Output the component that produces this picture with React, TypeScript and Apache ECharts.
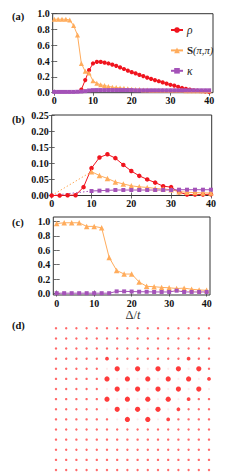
import React, { useEffect, useRef } from "react";
import * as echarts from "echarts";

// ---------- Panel (a) data: Δ/t step 1 ----------
const deltaA = [0,1,2,3,4,5,6,7,8,9,10,11,12,13,14,15,16,17,18,19,20,21,22,23,24,25,26,27,28,29,30,31,32,33,34,35,36,37,38,39,40];
const rhoAStart = 7;
const rhoA = [0.04,0.16,0.285,0.37,0.39,0.39,0.38,0.37,0.355,0.34,0.32,0.30,0.28,0.26,0.245,0.225,0.21,0.19,0.175,0.16,0.145,0.13,0.115,0.10,0.09,0.075,0.06,0.05,0.04,0.03,0.025,0.02,0.015,0.01];
const sA = [0.93,0.93,0.93,0.93,0.92,0.85,0.73,0.37,0.27,0.25,0.15,0.12,0.10,0.09,0.08,0.07,0.065,0.06,0.055,0.05,0.045,0.04,0.04,0.035,0.035,0.03,0.03,0.03,0.03,0.03,0.03,0.03,0.03,0.03,0.025,0.025,0.025,0.025,0.025,0.025,0.025];
const kA = [0.01,0.01,0.01,0.01,0.01,0.01,0.012,0.015,0.02,0.028,0.032,0.033,0.033,0.033,0.033,0.033,0.033,0.033,0.033,0.033,0.033,0.03,0.03,0.03,0.03,0.03,0.03,0.03,0.03,0.03,0.03,0.03,0.03,0.03,0.03,0.03,0.03,0.03,0.03,0.03,0.03];

// ---------- Panel (b) data: Δ/t step 2 ----------
const deltaB = [0,2,4,6,8,10,12,14,16,18,20,22,24,26,28,30,32,34,36,38,40];
const rhoB = [0,0,0.001,0.001,0.026,0.085,0.118,0.128,0.116,0.095,0.076,0.061,0.05,0.04,0.029,0.026,0.01,0.003,0.003,0.003,0.004];
const deltaB2 = [10,12,14,16,18,20,22,24,26,28,30,32,34,36,38,40];
const sB = [0.074,0.062,0.053,0.042,0.036,0.03,0.027,0.025,0.022,0.02,0.018,0.012,0.01,0.009,0.008,0.008];
const kB = [0.014,0.015,0.016,0.017,0.017,0.017,0.017,0.017,0.017,0.017,0.017,0.018,0.018,0.018,0.018,0.018];

// ---------- Panel (c) data ----------
const deltaC = [0,2,4,6,8,10,12,14,16,18,20,22,24,26,28,30,32,34,36,38,40];
const sC = [0.97,0.98,0.98,0.98,0.93,0.93,0.91,0.5,0.32,0.27,0.27,0.16,0.1,0.095,0.085,0.08,0.07,0.075,0.06,0.05,0.045];
const kC = [0.005,0.005,0.005,0.005,0.005,0.005,0.005,0.005,0.03,0.03,0.028,0.025,0.025,0.022,0.022,0.022,0.04,0.022,0.022,0.022,0.022];

// ---------- tick labels ----------
const xTicks = [0, 10, 20, 30, 40];
const yTicksA = [0, 0.2, 0.4, 0.6, 0.8, 1.0];
const yTicksB = [0, 0.05, 0.1, 0.15, 0.2, 0.25];
const yTicksC = [0, 0.2, 0.4, 0.6, 0.8, 1.0];

// ---------- Panel (d) lattice: f faint, s small, m medium, B big ----------
const latticeRows = [
  "ssssssssssssssss",
  "ssssssssssssssss",
  "ssssssssssssssss",
  "sssssmsssssssmss",
  "sssssfBfBfBfBfBs",
  "sssssBfBfBfBfBfm",
  "sssssfBfBfBfBfBf",
  "sssssBfBfBfBfmss",
  "sssssfBfBfBfmsss",
  "ssssssfBfBfmssss",
  "ssssssssssssssss",
  "ssssssssssssssss",
  "ssssssssssssssss",
  "ssssssssssssssss",
  "ssssssssssssssss",
];

const RED = "#f0141e";
const ORANGE = "#ffac5c";
const PURPLE = "#a452b8";
const SERIF = "'Liberation Serif', 'DejaVu Serif', serif";

const zip = (xs: number[], ys: number[]) => ys.map((y, i) => [xs[i], y]);

const labelStyle = {
  fontFamily: SERIF,
  fontWeight: "bold" as const,
  fontSize: 10,
  color: "#111",
};

function xAxesFor(g: number, min: number, max: number) {
  const common = {
    type: "value" as const,
    gridIndex: g,
    min,
    max,
    axisLine: { show: false },
    splitLine: { show: false },
    axisTick: { inside: true, length: 3, lineStyle: { color: "#444", width: 0.8 }, customValues: xTicks },
  };
  return [
    {
      ...common,
      position: "bottom" as const,
      axisLabel: { ...labelStyle, margin: 3, customValues: xTicks, formatter: (v: number) => String(Math.round(v)) },
    },
    { ...common, position: "top" as const, axisLabel: { show: false } },
  ];
}

function yAxesFor(g: number, min: number, max: number, ticks: number[], digits: number) {
  const common = {
    type: "value" as const,
    gridIndex: g,
    min,
    max,
    axisLine: { show: false },
    splitLine: { show: false },
    axisTick: { inside: true, length: 3, lineStyle: { color: "#444", width: 0.8 }, customValues: ticks },
  };
  return [
    {
      ...common,
      position: "left" as const,
      axisLabel: { ...labelStyle, margin: 3, customValues: ticks, formatter: (v: number) => v.toFixed(digits) },
    },
    { ...common, position: "right" as const, axisLabel: { show: false } },
  ];
}

function lineSeries(name: string, xi: number, yi: number, data: number[][], color: string, symbol: string, size: number, extra: any = {}) {
  return {
    name,
    type: "line",
    xAxisIndex: xi,
    yAxisIndex: yi,
    data,
    symbol,
    symbolSize: size,
    itemStyle: { color },
    lineStyle: { color, width: 1 },
    emphasis: { disabled: true },
    ...extra,
  };
}

function guide(xi: number, yi: number, end: number[], color: string) {
  return {
    name: "guide",
    type: "line",
    xAxisIndex: xi,
    yAxisIndex: yi,
    data: [[0, 0], end],
    symbol: "none",
    lineStyle: { color, width: 1, type: [1.5, 2] },
    emphasis: { disabled: true },
    silent: true,
  };
}

const levelOf: Record<string, number> = { f: 0, s: 1, m: 2, B: 3 };
const sizeOf = [2.2, 2.4, 3.8, 5.2];
const colorOf = ["rgba(255,80,80,0.14)", "rgba(255,20,20,0.8)", "#ff1414", "#ff0a0a"];

const latticeData: number[][] = [];
latticeRows.forEach((row, j) => {
  row.split("").forEach((ch, i) => latticeData.push([i, j, levelOf[ch]]));
});

export default function App() {
  const ref = useRef<HTMLDivElement>(null);
  useEffect(() => {
    const chart = echarts.init(ref.current!, null, { renderer: "svg" });
    const option: any = {
      animation: false,
      backgroundColor: "#fff",
      grid: [
        { left: 52.7, top: 13.7, width: 160.3, height: 79, show: true, borderColor: "#333", borderWidth: 1, backgroundColor: "transparent" },
        { left: 51.7, top: 115, width: 160, height: 80.5, show: true, borderColor: "#333", borderWidth: 1, backgroundColor: "transparent" },
        { left: 53.3, top: 217, width: 156.7, height: 78, show: true, borderColor: "#333", borderWidth: 1, backgroundColor: "transparent" },
        { left: 56, top: 328.3, width: 153, height: 141.7, show: false },
      ],
      xAxis: [
        ...xAxesFor(0, -0.4, 41),
        ...xAxesFor(1, 0, 40.2),
        ...xAxesFor(2, -0.9, 40.9),
        { type: "value", gridIndex: 3, min: 0, max: 15, show: false },
      ],
      yAxis: [
        ...yAxesFor(0, 0, 1.0, yTicksA, 1),
        ...yAxesFor(1, 0, 0.25, yTicksB, 2),
        ...yAxesFor(2, -0.02, 1.06, yTicksC, 1),
        { type: "value", gridIndex: 3, min: 0, max: 14, inverse: true, show: false },
      ],
      legend: {
        data: ["ρ", "S(π,π)", "κ"],
        orient: "vertical",
        left: 165,
        top: 19,
        itemWidth: 12,
        itemHeight: 7,
        itemGap: 8.4,
        selectedMode: false,
        formatter: (name: string) => (name === "S(π,π)" ? "{b|S}{n|(π,π)}" : "{i|" + name + "}"),
        textStyle: {
          fontFamily: SERIF,
          fontSize: 11,
          color: "#222",
          lineHeight: 12,
          padding: [0, 0, 0, -1],
          rich: {
            b: { fontFamily: SERIF, fontWeight: "bold", fontSize: 11, color: "#222" },
            n: { fontFamily: SERIF, fontStyle: "italic", fontSize: 10.5, color: "#222" },
            i: { fontFamily: SERIF, fontStyle: "italic", fontSize: 11.5, color: "#222" },
          },
        },
      },
      graphic: [
        { type: "text", x: 12, y: 16, style: { text: "(a)", fontFamily: SERIF, fontWeight: "bold", fontSize: 10.5, fill: "#111", verticalAlign: "middle" } },
        { type: "text", x: 12, y: 119, style: { text: "(b)", fontFamily: SERIF, fontWeight: "bold", fontSize: 10.5, fill: "#111", verticalAlign: "middle" } },
        { type: "text", x: 12, y: 222, style: { text: "(c)", fontFamily: SERIF, fontWeight: "bold", fontSize: 10.5, fill: "#111", verticalAlign: "middle" } },
        { type: "text", x: 12, y: 325, style: { text: "(d)", fontFamily: SERIF, fontWeight: "bold", fontSize: 10.5, fill: "#111", verticalAlign: "middle" } },
        {
          type: "text",
          x: 133,
          y: 315,
          style: {
            text: "{n|Δ/}{i|t}",
            align: "center",
            verticalAlign: "middle",
            fill: "#333",
            rich: {
              n: { fontFamily: SERIF, fontSize: 12.5, fill: "#333" },
              i: { fontFamily: SERIF, fontStyle: "italic", fontSize: 12.5, fill: "#333" },
            },
          },
        },
      ],
      series: [
        // (a)
        lineSeries("ρ", 0, 0, zip(deltaA.slice(rhoAStart), rhoA), RED, "circle", 4.2),
        lineSeries("S(π,π)", 0, 0, zip(deltaA, sA), ORANGE, "triangle", 5),
        lineSeries("κ", 0, 0, zip(deltaA, kA), PURPLE, "rect", 4),
        // (b)
        guide(2, 2, [deltaB2[0], sB[0]], ORANGE),
        guide(2, 2, [deltaB2[0], kB[0]], PURPLE),
        lineSeries("ρ", 2, 2, zip(deltaB, rhoB), RED, "circle", 4.5),
        lineSeries("S(π,π)", 2, 2, zip(deltaB2, sB), ORANGE, "triangle", 5.5),
        lineSeries("κ", 2, 2, zip(deltaB2, kB), PURPLE, "rect", 4),
        // (c)
        lineSeries("S(π,π)", 4, 4, zip(deltaC, sC), ORANGE, "triangle", 5.5),
        lineSeries("κ", 4, 4, zip(deltaC, kC), PURPLE, "rect", 4),
        // (d)
        {
          name: "lattice",
          type: "scatter",
          xAxisIndex: 6,
          yAxisIndex: 6,
          data: latticeData,
          symbol: "circle",
          symbolSize: (v: number[]) => sizeOf[v[2]],
          itemStyle: { color: (p: any) => colorOf[p.data[2]] },
          emphasis: { disabled: true },
          silent: true,
        },
      ],
    };
    chart.setOption(option);
    return () => chart.dispose();
  }, []);
  return (
    <div
      ref={ref}
      style={{ position: "absolute", left: 0, top: 0, width: 240, height: 473, background: "#fff" }}
    />
  );
}
